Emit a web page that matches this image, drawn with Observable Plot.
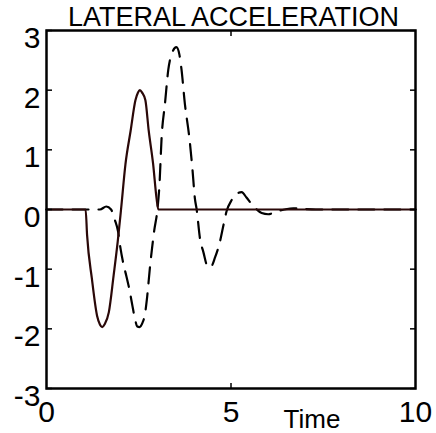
<!DOCTYPE html>
<html>
<head>
<meta charset="utf-8">
<script src="https://cdn.jsdelivr.net/npm/d3@7"></script>
<script src="https://cdn.jsdelivr.net/npm/@observablehq/plot@0.6"></script>
<style>
  html, body { margin: 0; padding: 0; background: #fff; }
</style>
</head>
<body>
<div id="chart"></div>
<script>
const titleText = "LATERAL ACCELERATION";
const xLabelText = "Time";
const xTicks = [0, 5, 10];
const yTicks = [-3, -2, -1, 0, 1, 2, 3];

// solid series
const solidT = [0, 1.06, 1.10, 1.23, 1.37, 1.45, 1.51, 1.58, 1.69, 1.82, 1.93, 2.02, 2.14, 2.28, 2.41, 2.48, 2.53, 2.59, 2.68, 2.77, 2.89, 2.98, 3.03, 10];
const solidV = [0, 0, -0.43, -1.16, -1.78, -1.93, -1.97, -1.92, -1.72, -1.10, -0.54, 0, 0.76, 1.32, 1.83, 1.96, 2.0, 1.96, 1.83, 1.32, 0.76, 0.2, 0, 0];

// dashed series
const dashT = [0, 1.45, 1.62, 1.75, 1.85, 1.94, 2.0, 2.08, 2.17, 2.25, 2.33, 2.40, 2.46, 2.52, 2.60, 2.66, 2.73, 2.80, 2.86, 2.92, 3.0, 3.06, 3.12, 3.21, 3.30, 3.40, 3.52, 3.60, 3.66, 3.75, 3.87, 3.96, 4.02, 4.07, 4.16, 4.25, 4.38, 4.47, 4.57, 4.70, 4.80, 4.88, 5.02, 5.15, 5.29, 5.42, 5.56, 5.70, 5.83, 6.01, 6.24, 6.45, 6.69, 6.95, 7.3, 10];
const dashV = [0, 0, 0.05, 0.0, -0.17, -0.37, -0.63, -0.9, -1.13, -1.35, -1.62, -1.84, -1.96, -1.97, -1.9, -1.78, -1.45, -0.99, -0.65, -0.35, -0.03, 0.4, 1.21, 1.77, 2.34, 2.62, 2.72, 2.6, 2.34, 1.77, 1.21, 0.64, 0.19, 0, -0.49, -0.71, -0.97, -0.95, -0.8, -0.54, -0.25, -0.03, 0.16, 0.26, 0.29, 0.2, 0.09, 0.0, -0.06, -0.08, -0.03, 0.0, 0.02, 0.01, 0, 0];

const solid = solidT.map((t, i) => ({t, v: solidV[i]}));
const dashed = dashT.map((t, i) => ({t, v: dashV[i]}));

const blank = () => "";
const plain = d => String(d);

const chart = Plot.plot({
  width: 436,
  height: 433,
  marginLeft: 46,
  marginRight: 21,
  marginTop: 30,
  marginBottom: 45,
  style: {fontFamily: "'Liberation Sans', Arial, sans-serif", background: "#fff", color: "#000"},
  x: {domain: [0, 10]},
  y: {domain: [-3, 3]},
  marks: [
    Plot.line(dashed, {x: "t", y: "v", stroke: "#000", strokeWidth: 2.2, strokeDasharray: "16,10", curve: "monotone-x"}),
    Plot.line(solid, {x: "t", y: "v", stroke: "#2a0808", strokeWidth: 2.2, curve: "monotone-x"}),
    Plot.frame({stroke: "#000", strokeWidth: 2.5}),
    Plot.axisY(yTicks, {anchor: "left", tickSize: -6, tickFormat: blank, label: null, strokeWidth: 1.5}),
    Plot.axisY(yTicks, {anchor: "right", tickSize: -6, tickFormat: blank, label: null, strokeWidth: 1.5}),
    Plot.axisX([5], {anchor: "bottom", tickSize: -5, tickFormat: blank, label: null, strokeWidth: 1.5}),
    Plot.axisX([5], {anchor: "top", tickSize: -5, tickFormat: blank, label: null, strokeWidth: 1.5}),
    Plot.axisY(yTicks, {anchor: "left", tickSize: 0, tickPadding: 6, fontSize: 30, dy: 8, label: null, tickFormat: plain}),
    Plot.axisX(xTicks, {anchor: "bottom", tickSize: 0, tickPadding: 12, fontSize: 30, label: null, tickFormat: plain}),
    Plot.text([xLabelText], {frameAnchor: "bottom", lineAnchor: "top", dx: 81, dy: 21, fontSize: 26, fill: "#000"}),
    Plot.text([titleText], {frameAnchor: "top", lineAnchor: "bottom", dx: 2.5, dy: -5, fontSize: 27, fill: "#000"})
  ]
});
document.getElementById("chart").appendChild(chart);
</script>
</body>
</html>
